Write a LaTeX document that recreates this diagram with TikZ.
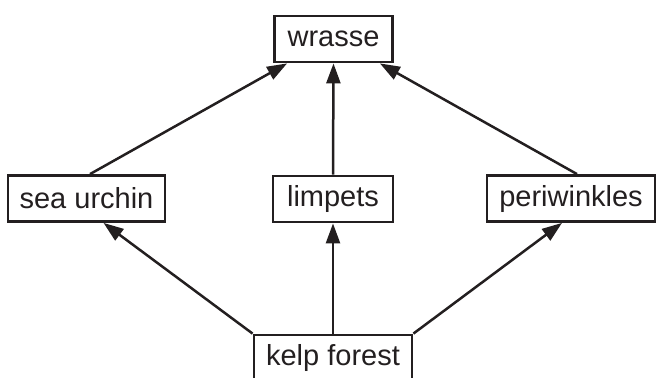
\documentclass[tikz,border=0pt]{standalone}
\usepackage{fontspec}
\setmainfont{Liberation Sans}
\usetikzlibrary{arrows.meta}
\definecolor{ink}{HTML}{231F20}
\begin{document}
\begin{tikzpicture}[x=1pt,y=-1pt,
  box/.style={draw=ink,line width=2.8pt,minimum height=46pt,inner sep=0pt,font=\fontsize{29}{31}\selectfont,text=ink},
  link/.style={draw=ink,line width=2.5pt,-{Triangle[length=20pt,width=14pt]}}]
\useasboundingbox (0,0) rectangle (657,378);
\node[box,minimum width=118pt] (w) at (333.5,39) {wrasse};
\node[box,minimum width=157pt] (su) at (86.5,198.5) {sea urchin};
\node[box,minimum width=120pt] (li) at (333,199) {limpets};
\node[box,minimum width=168pt] (pe) at (571,198.5) {periwinkles};
\node[box,minimum width=158pt] (kf) at (333,358) {kelp forest};
\draw[link] ([xshift=3.5pt]su.north) -- ([xshift=14pt]w.south west);
\draw[link] (li.north) -- (w.south);
\draw[link] ([xshift=6pt]pe.north) -- ([xshift=-14pt]w.south east);
\draw[link] (kf.north west) -- ([xshift=17pt]su.south);
\draw[link] (kf.north) -- (li.south);
\draw[link] (kf.north east) -- ([xshift=-9pt]pe.south);
\end{tikzpicture}
\end{document}
